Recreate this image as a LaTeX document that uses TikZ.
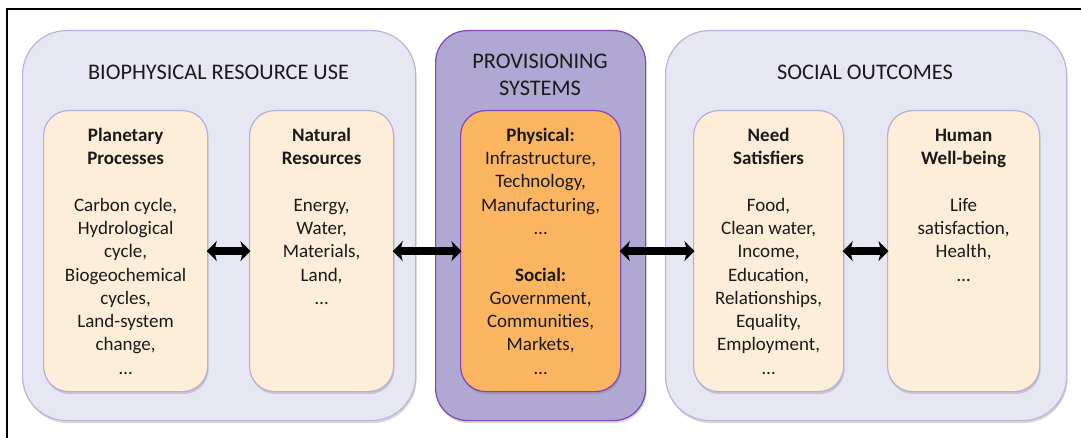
\documentclass[tikz,border=0pt]{standalone}
\usepackage{fontspec}
\setmainfont{Carlito}
\usetikzlibrary{arrows.meta,shadows}
\definecolor{grpfill}{HTML}{E7E7F3}
\definecolor{grpdraw}{HTML}{B9B5DA}
\definecolor{boxfill}{HTML}{FEEDD9}
\definecolor{boxdraw}{HTML}{B5B0D6}
\definecolor{provfill}{HTML}{B0A8D2}
\definecolor{provdraw}{HTML}{8045B8}
\definecolor{orangefill}{HTML}{FBB561}
\definecolor{txtcol}{HTML}{1A1A1A}
\tikzset{
  shad/.style={drop shadow={shadow xshift=1pt,shadow yshift=-2.5pt,opacity=0.25,fill=black!60}},
  grp/.style={shad,draw=grpdraw,fill=grpfill,line width=1.2pt,rounded corners=44pt,anchor=north west,minimum height=390pt,inner sep=0pt},
  prov/.style={shad,draw=provdraw,fill=provfill,line width=1.2pt,rounded corners=32pt,anchor=north west,minimum height=390pt,inner sep=0pt},
  ibox/.style={shad,draw=boxdraw,fill=boxfill,line width=1.2pt,rounded corners=25pt,anchor=north west,minimum height=281pt,inner sep=0pt},
  obox/.style={shad,draw=provdraw,fill=orangefill,line width=1.2pt,rounded corners=25pt,anchor=north west,minimum height=281pt,inner sep=0pt},
  txt/.style={align=center,font=\fontsize{19}{23.3}\selectfont,text=txtcol,inner sep=0pt,anchor=north},
  ttl/.style={align=center,font=\fontsize{22.3}{27}\selectfont,text=txtcol,inner sep=0pt},
  dbl/.style={line width=7.5pt,{Stealth[length=10pt,width=20pt,inset=2.5pt]}-{Stealth[length=10pt,width=20pt,inset=2.5pt]},shorten <=-1.5pt,shorten >=-1.5pt}
}
\begin{document}
\begin{tikzpicture}[x=1pt,y=-1pt]
\useasboundingbox (0,0) rectangle (1081,438);
\fill[white] (0,0) rectangle (1081,438);
\draw[line width=1.5pt] (7,438) -- (7,9) -- (1081,9);
% groups
\node[grp,minimum width=393pt] (bio) at (22,30) {};
\node[prov,minimum width=210pt] (prs) at (435,30) {};
\node[grp,minimum width=401pt] (soc) at (665,30) {};
% titles
\node[ttl] (biot) at (218.5,72) {BIOPHYSICAL RESOURCE USE};
\node[ttl] (prst) at (540,74.5) {PROVISIONING\\SYSTEMS};
\node[ttl] (soct) at (865,72) {SOCIAL OUTCOMES};
% inner boxes
\node[ibox,minimum width=164pt] (pp) at (43,110) {};
\node[ibox,minimum width=144pt] (nr) at (249,110) {};
\node[obox,minimum width=160pt] (ph) at (460,110) {};
\node[ibox,minimum width=150pt] (ns) at (693,110) {};
\node[ibox,minimum width=152pt] (hw) at (887,110) {};
% texts
\node[txt] (ppt) at ([yshift=-14.7pt]pp.north) {\strut\textbf{Planetary}\\\textbf{Processes}\\[23.3pt]Carbon cycle,\\Hydrological\\cycle,\\Biogeochemical\\cycles,\\Land-system\\change,\\…};
\node[txt] (nrt) at ([yshift=-14.7pt]nr.north) {\strut\textbf{Natural}\\\textbf{Resources}\\[23.3pt]Energy,\\Water,\\Materials,\\Land,\\…};
\node[txt] (pht) at ([yshift=-14.7pt]ph.north) {\strut\textbf{Physical:}\\Infrastructure,\\Technology,\\Manufacturing,\\…\\[23.3pt]\textbf{Social:}\\Government,\\Communities,\\Markets,\\…};
\node[txt] (nst) at ([yshift=-14.7pt]ns.north) {\strut\textbf{Need}\\\textbf{Satisfiers}\\[23.3pt]Food,\\Clean water,\\Income,\\Education,\\Relationships,\\Equality,\\Employment,\\…};
\node[txt] (hwt) at ([yshift=-14.7pt]hw.north) {\strut\textbf{Human}\\\textbf{Well-being}\\[23.3pt]Life\\satisfaction,\\Health,\\…};
% arrows
\draw[dbl] (pp.east) -- (nr.west);
\draw[dbl] (nr.east) -- (ph.west);
\draw[dbl] (ph.east) -- (ns.west);
\draw[dbl] (ns.east) -- (hw.west);
\end{tikzpicture}
\end{document}
